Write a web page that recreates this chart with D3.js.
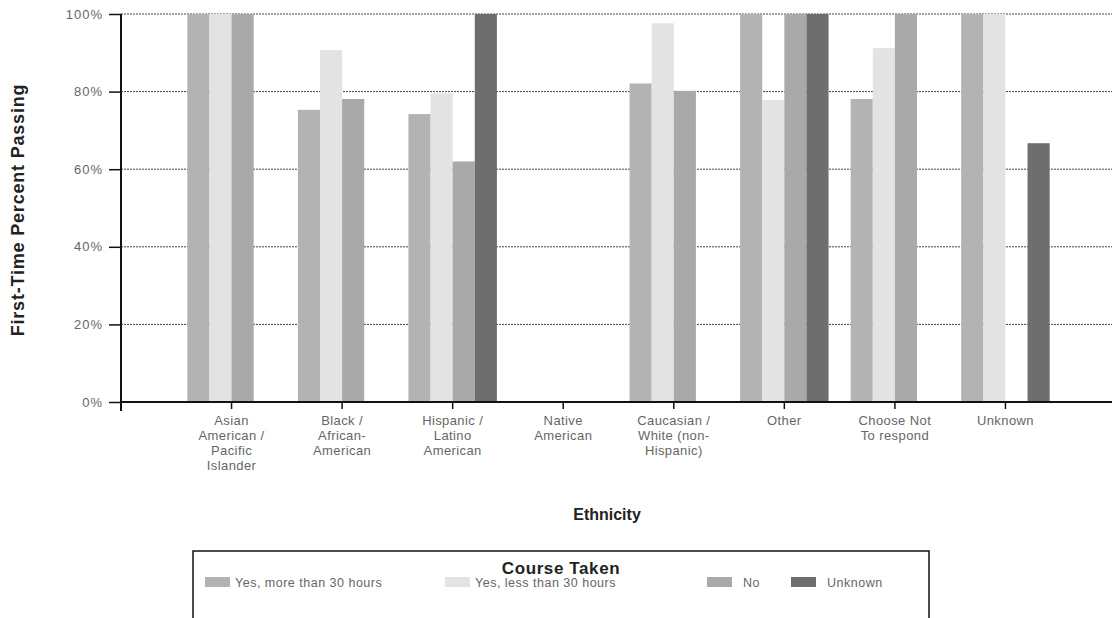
<!DOCTYPE html>
<html>
<head>
<meta charset="utf-8">
<script src="https://cdn.jsdelivr.net/npm/d3@7"></script>
<style>
  html, body { margin: 0; padding: 0; background: #ffffff; }
  svg { display: block; font-family: "Liberation Sans", Arial, sans-serif; }
</style>
</head>
<body>
<svg id="chart" width="1112" height="618"></svg>
<script>
// ---- data ----
const categories = [
  "Asian\nAmerican /\nPacific\nIslander",
  "Black /\nAfrican-\nAmerican",
  "Hispanic /\nLatino\nAmerican",
  "Native\nAmerican",
  "Caucasian /\nWhite (non-\nHispanic)",
  "Other",
  "Choose Not\nTo respond",
  "Unknown"
];
const seriesNames = ["Yes, more than 30 hours", "Yes, less than 30 hours", "No", "Unknown"];
// null = no bar
const moreThan30 = [100, 75.3, 74.2, null, 82.1, 100, 78.1, 100];
const lessThan30 = [100, 90.7, 79.6, null, 97.6, 77.8, 91.2, 100];
const noCourse   = [100, 78.1, 62.0, null, 80.2, 100, 100, null];
const unknownC   = [null, null, 100, null, null, 100, null, 66.7];
const seriesValues = [moreThan30, lessThan30, noCourse, unknownC];
const yTicks = [0, 20, 40, 60, 80, 100];
const seriesColors = ["#b3b3b3", "#e3e3e3", "#a9a9a9", "#6e6e6e"];

// ---- layout ----
const svg = d3.select("#chart");
const axisX = 121, yTop = 14, yBottom = 402;

const x0 = d3.scaleBand().domain(d3.range(categories.length))
  .range([axisX, 1116]).paddingInner(0).paddingOuter(0.5);
const x1 = d3.scaleBand().domain(d3.range(seriesNames.length))
  .range([0, x0.bandwidth()]).paddingInner(0).paddingOuter(0.5);
const y = d3.scaleLinear().domain([0, 100]).range([yBottom, yTop]);

// gridlines
svg.append("g").selectAll("line").data(yTicks.filter(d => d > 0)).join("line")
  .attr("x1", axisX).attr("x2", 1112)
  .attr("y1", d => y(d)).attr("y2", d => y(d))
  .attr("stroke", "#444").attr("stroke-width", 1).attr("stroke-dasharray", "2,1");

// bars
const flat = [];
seriesValues.forEach((vals, s) => vals.forEach((v, c) => { if (v != null) flat.push({s, c, v}); }));
svg.append("g").selectAll("rect").data(flat).join("rect")
  .attr("x", d => x0(d.c) + x1(d.s))
  .attr("width", x1.bandwidth())
  .attr("y", d => y(d.v))
  .attr("height", d => y(0) - y(d.v))
  .attr("fill", d => seriesColors[d.s]);

// y axis
const yAxis = d3.axisLeft(y).tickValues(yTicks).tickFormat(d => d + "%").tickSize(12).tickPadding(6);
const gy = svg.append("g").attr("transform", `translate(${axisX},0)`).call(yAxis);
gy.select(".domain").remove();
gy.selectAll(".tick line").attr("stroke", "#111").attr("stroke-width", 1.5);
gy.selectAll(".tick text").attr("fill", "#666").style("font-size", "13px").style("letter-spacing", "1px");
svg.append("line").attr("x1", axisX).attr("x2", axisX).attr("y1", yTop).attr("y2", 411)
  .attr("stroke", "#111").attr("stroke-width", 2);

// x axis
const xAxis = d3.axisBottom(x0).tickSize(7).tickFormat("");
const gx = svg.append("g").attr("transform", `translate(0,${yBottom})`).call(xAxis);
gx.select(".domain").remove();
gx.selectAll(".tick line").attr("stroke", "#111").attr("stroke-width", 1.5);
svg.append("line").attr("x1", axisX).attr("x2", 1112).attr("y1", yBottom).attr("y2", yBottom)
  .attr("stroke", "#111").attr("stroke-width", 2);

// category labels
const lab = svg.append("g").selectAll("text").data(categories).join("text")
  .attr("text-anchor", "middle")
  .attr("fill", "#666")
  .style("font-size", "13px").style("letter-spacing", "0.4px");
lab.each(function(d, i) {
  const t = d3.select(this);
  d.split("\n").forEach((line, k) => {
    t.append("tspan").attr("x", x0(i) + x0.bandwidth() / 2).attr("y", 425 + k * 15).text(line);
  });
});

// axis titles
svg.append("text").attr("transform", "translate(24,210) rotate(-90)")
  .attr("text-anchor", "middle").attr("fill", "#222")
  .style("font-size", "18px").style("font-weight", "bold").style("letter-spacing", "0.8px")
  .text("First-Time Percent Passing");
svg.append("text").attr("x", 607).attr("y", 520)
  .attr("text-anchor", "middle").attr("fill", "#222")
  .style("font-size", "16px").style("font-weight", "bold")
  .text("Ethnicity");

// legend
const lg = svg.append("g");
lg.append("rect").attr("x", 193).attr("y", 551).attr("width", 736).attr("height", 80)
  .attr("fill", "none").attr("stroke", "#111").attr("stroke-width", 1.5);
lg.append("text").attr("x", 561).attr("y", 574).attr("text-anchor", "middle")
  .attr("fill", "#222").style("font-size", "17px").style("font-weight", "bold")
  .style("letter-spacing", "0.6px")
  .text("Course Taken");
const legendX = [205, 445, 707, 791];
const items = lg.selectAll("g.item").data(seriesNames).join("g").attr("class", "item")
  .attr("transform", (d, i) => `translate(${legendX[i]},577)`);
items.append("rect").attr("width", 25).attr("height", 10).attr("fill", (d, i) => seriesColors[i]);
items.append("text").attr("x", (d, i) => i < 2 ? 30 : 36).attr("y", 10).attr("fill", "#666")
  .style("font-size", "12.5px").style("letter-spacing", "0.5px").text(d => d);
</script>
</body>
</html>
